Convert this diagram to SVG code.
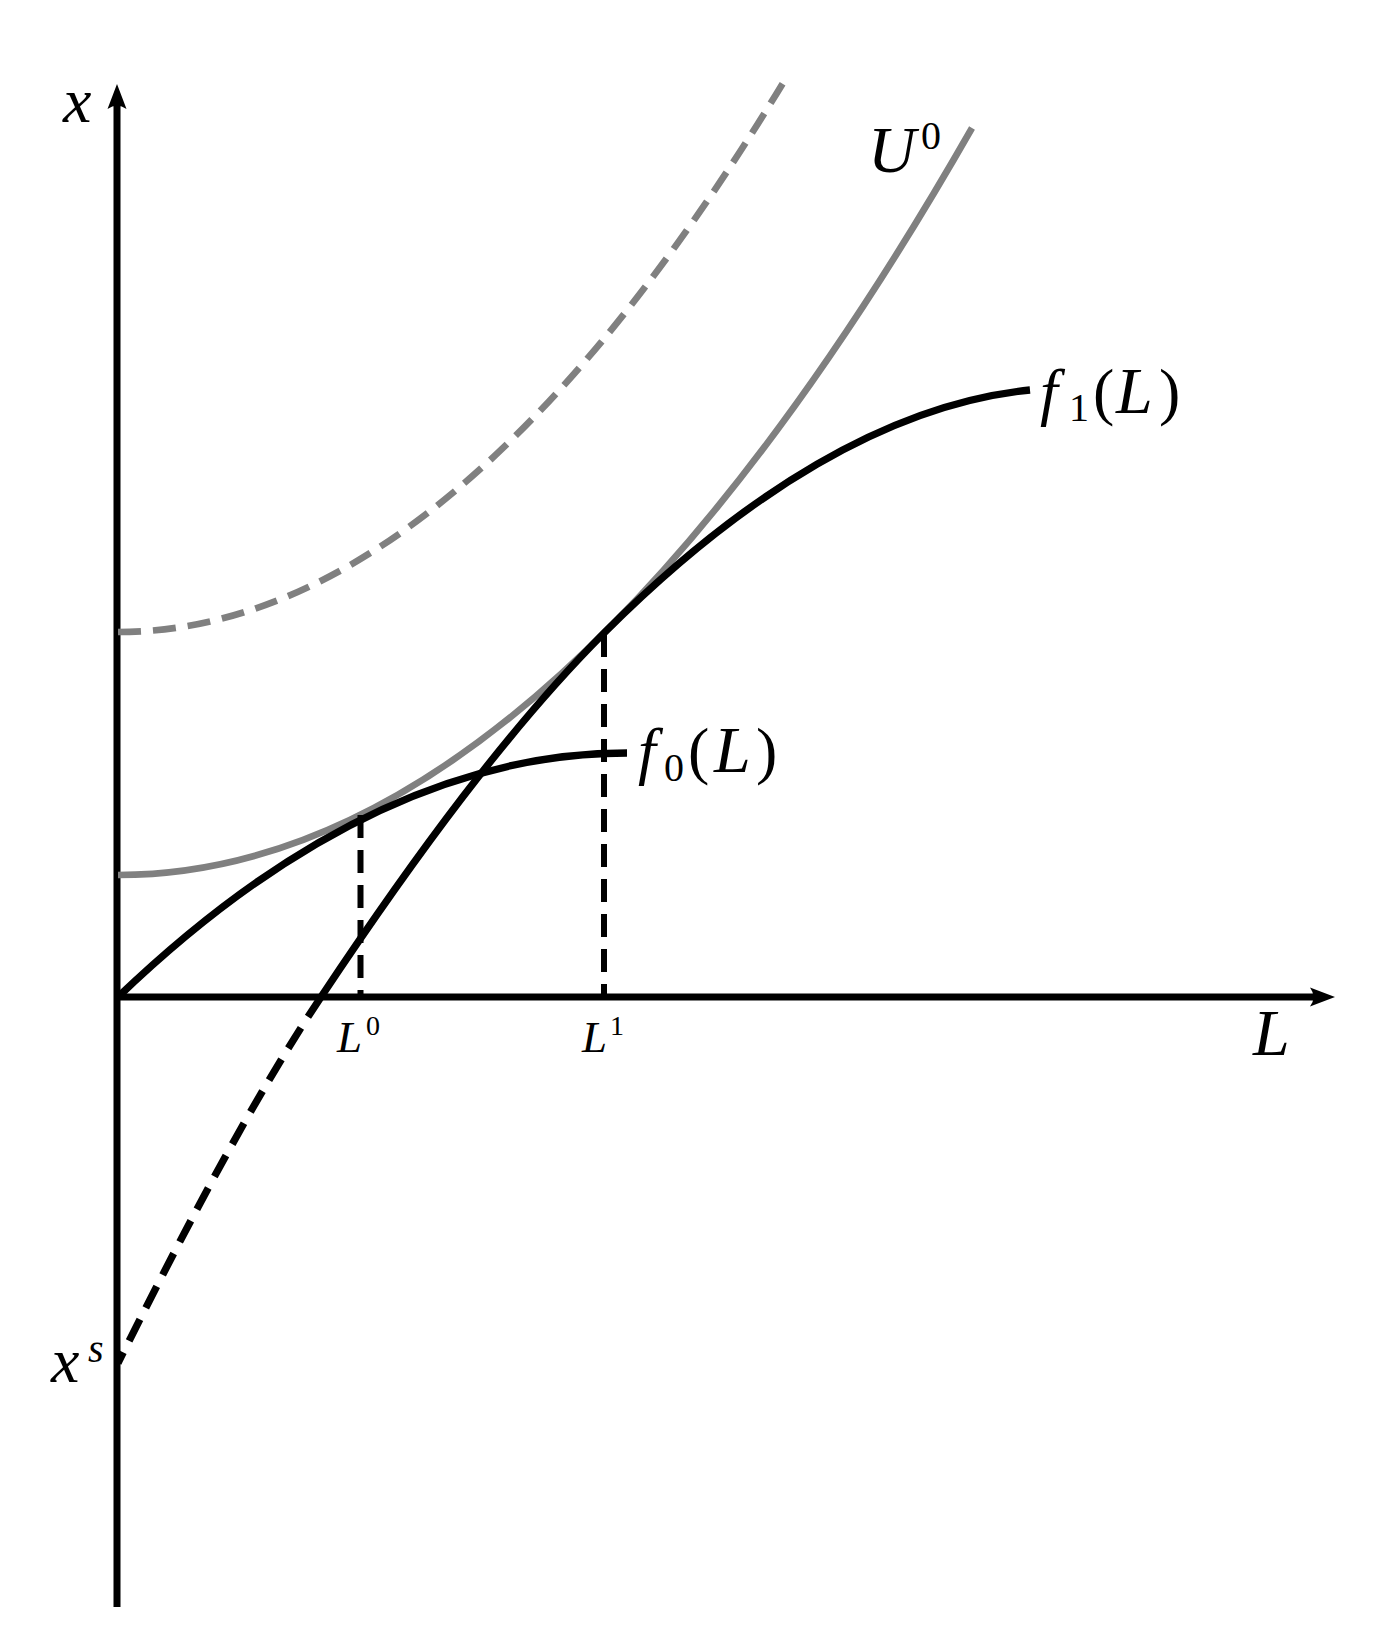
<svg xmlns="http://www.w3.org/2000/svg" width="1376" height="1638" viewBox="0 0 1376 1638">
<defs>
<style>
.ax{stroke:#000;stroke-width:7;fill:none}
.bk{stroke:#000;stroke-width:7.3;fill:none}
.gr{stroke:#808080;stroke-width:6.7;fill:none}
.dash{stroke-dasharray:23 12}
.bdash{stroke-dasharray:24 13}
.vd{stroke:#000;stroke-width:6;stroke-dasharray:23 12;fill:none}
.t{font-family:"Liberation Serif","Times New Roman",serif;fill:#000}
.i{font-style:italic}
</style>
<marker id="arr" viewBox="-40 -12 44 24" markerWidth="44" markerHeight="24" markerUnits="userSpaceOnUse" refX="-15" refY="0" orient="auto" overflow="visible">
<path d="M0,0 L-25,-9.5 Q-18,0 -25,9.5 Z" fill="#000"/>
</marker>
</defs>
<rect width="1376" height="1638" fill="#fff"/>
<g id="axes">
<line class="ax" x1="117" y1="1607" x2="117" y2="99" marker-end="url(#arr)"/>
<line class="ax" x1="114" y1="997" x2="1320" y2="997" marker-end="url(#arr)"/>
</g>
<g id="connectors">
<path id="U1-dashed" class="gr dash" d="M118,632 Q452,632 786,78"/>
<path id="U0" class="gr" d="M118,875 Q545,875 972,128"/>
<path id="f0" class="bk" d="M118,997 Q372.5,753 627,753"/>
<path id="f1" class="bk" d="M321,997 C415.3,855.5 509.7,727.3 604,633 C744.3,492.7 890,404 1030,390"/>
<path id="f1-dashed" class="bk bdash" d="M321,997 C253.3,1098.5 185.7,1227.6 118,1363"/>
<line id="L0-line" class="vd" x1="360.5" y1="815" x2="360.5" y2="997"/>
<line id="L1-line" class="vd" x1="604" y1="634" x2="604" y2="997"/>
</g>
<g id="labels">
<text id="lab-x" class="t i" x="63" y="122" font-size="64">x</text>
<text id="lab-L" class="t i" x="1253" y="1055" font-size="66">L</text>
<text id="lab-xs" class="t" x="51" y="1382" font-size="64"><tspan class="i">x</tspan><tspan class="i" x="88" y="1362" font-size="40">s</tspan></text>
<text id="lab-U0" class="t" x="868" y="172" font-size="66"><tspan class="i">U</tspan><tspan x="921" y="149" font-size="40">0</tspan></text>
<text id="lab-f1" class="t" x="1040" y="413" font-size="64"><tspan class="i">f</tspan><tspan x="1069" y="421" font-size="40">1</tspan><tspan x="1093" y="413">(</tspan><tspan class="i" x="1116" font-size="66">L</tspan><tspan x="1159">)</tspan></text>
<text id="lab-f0" class="t" x="638" y="772" font-size="64"><tspan class="i">f</tspan><tspan x="664" y="781" font-size="40">0</tspan><tspan x="688" y="772">(</tspan><tspan class="i" x="714" font-size="66">L</tspan><tspan x="756">)</tspan></text>
<text id="lab-L0" class="t" x="337" y="1052" font-size="45"><tspan class="i">L</tspan><tspan x="366" y="1035" font-size="28">0</tspan></text>
<text id="lab-L1" class="t" x="582" y="1052" font-size="45"><tspan class="i">L</tspan><tspan x="610" y="1035" font-size="28">1</tspan></text>
</g>
</svg>
